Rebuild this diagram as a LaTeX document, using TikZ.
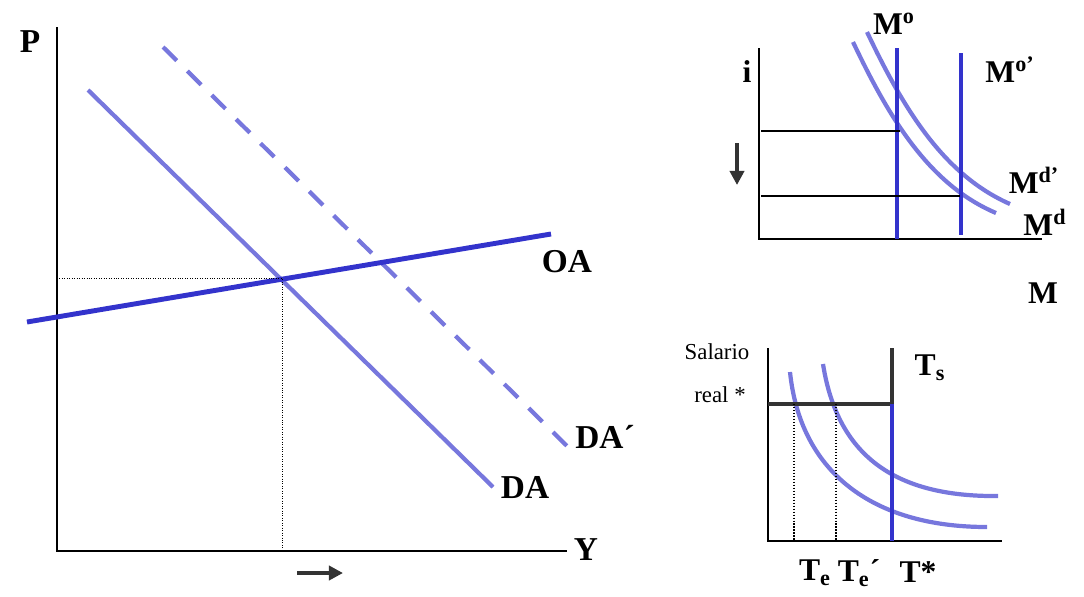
\documentclass[tikz,border=0pt]{standalone}
\usepackage{fontspec}
\setmainfont{Liberation Serif}
\usepackage{xcolor}
\usetikzlibrary{arrows.meta}

\definecolor{azulclaro}{HTML}{7777DD}
\definecolor{azuloscuro}{HTML}{3333CC}
\definecolor{grisoscuro}{HTML}{333333}

\begin{document}
\begin{tikzpicture}[x=0.02cm, y=-0.02cm, every node/.style={inner sep=0pt}]

    \useasboundingbox (0,0) rectangle (1084,596);

    \tikzset{eje/.style={black, line width=1.2pt}}
    \tikzset{curvaDA/.style={azulclaro, line width=2.4pt}}
    \tikzset{curvaOA/.style={azuloscuro, line width=2.8pt}}
    \tikzset{etiqueta/.style={font=\fontsize{19}{19}\selectfont\bfseries}}
    \tikzset{etiquetachica/.style={font=\fontsize{18}{18}\selectfont\bfseries}}
    \tikzset{flechagris/.style={grisoscuro, line width=2.2pt, -{Triangle[length=8pt, width=8pt]}}}

    % --- 1. Ejes del grafico principal (P, Y) ---
    \draw[eje] (57,27) -- (57,551) -- (567,551);
    \node[etiqueta] (lbl-P) at (30,42) {P};
    \node[etiqueta] (lbl-Y) at (586,550) {Y};

    % --- 2. Oferta y demanda agregada ---
    \draw[curvaDA] (88,90) -- (493,487);
    \draw[curvaDA, dash pattern=on 11pt off 8.5pt] (163,47) -- (567,446);
    \draw[curvaOA] (27,322) -- (551,234);

    % Lineas punteadas del equilibrio
    \draw[densely dotted, thin] (57,278) -- (282,278) -- (282,551);

    \node[etiqueta] (lbl-OA) at (567,262) {OA};
    \node[etiqueta] (lbl-DA) at (525,487) {DA};
    \node[etiqueta] (lbl-DA2) at (605,437) {DA´};

    % Flecha de desplazamiento de Y
    \draw[flechagris] (297,573) -- (343,573);

    % --- 3. Mercado de dinero (i, M) ---
    \draw[eje] (759,48) -- (759,239) -- (1042,239);
    \node[etiquetachica] (lbl-i) at (747,72) {i};
    \node[etiquetachica] (lbl-M) at (1043,293) {M};

    % Demanda de dinero (Md y Md')
    \draw[curvaDA] (853,42) .. controls (890,120) and (930,185) .. (996,213);
    \draw[curvaDA] (867,32) .. controls (904,110) and (944,175) .. (1010,204);

    % Oferta de dinero (Mo y Mo')
    \draw[azuloscuro, line width=2.6pt] (897,48) -- (897,239);
    \draw[azuloscuro, line width=2.6pt] (961,53) -- (961,235);

    % Tipos de interes
    \draw[black, line width=0.9pt] (761,131) -- (900,131);
    \draw[black, line width=0.9pt] (761,196) -- (960,196);

    \node[etiquetachica] (lbl-Mo) at (894,24) {M\textsuperscript{o}};
    \node[etiquetachica] (lbl-Mo2) at (1010,70) {M\textsuperscript{o’}};
    \node[etiquetachica] (lbl-Md2) at (1034,180) {M\textsuperscript{d’}};
    \node[etiquetachica] (lbl-Md) at (1045,222) {M\textsuperscript{d}};

    % Flecha de baja del tipo de interes
    \draw[flechagris] (737,143) -- (737,185);

    % --- 4. Mercado de trabajo (Salario real, T) ---
    \draw[eje] (768,348) -- (768,541) -- (1002,541);
    \node[font=\fontsize{13}{13}\selectfont] (lbl-salario) at (717,352) {Salario};
    \node[font=\fontsize{13}{13}\selectfont] (lbl-real) at (720,395) {real *};

    % Demanda de trabajo
    \draw[curvaDA] (790,372) .. controls (800,470) and (870,527) .. (987,527);
    \draw[curvaDA] (823,364) .. controls (838,460) and (900,497) .. (998,496);

    % Oferta de trabajo Ts y salario real
    \draw[grisoscuro, line width=2.3pt] (768,404) -- (892,404) -- (892,348);
    \draw[azuloscuro, line width=2.3pt] (892,404) -- (892,541);

    % Lineas punteadas del empleo
    \draw[densely dotted, line width=0.7pt] (794,404) -- (794,541);
    \draw[densely dotted, line width=0.7pt] (836,404) -- (836,541);

    \node[etiquetachica] (lbl-Ts) at (930,368) {T\textsubscript{s}};
    \node[etiquetachica] (lbl-Te) at (815,573) {T\textsubscript{e}};
    \node[etiquetachica] (lbl-Te2) at (859,573) {T\textsubscript{e}´};
    \node[etiquetachica] (lbl-Tstar) at (918,572) {T*};

\end{tikzpicture}
\end{document}
